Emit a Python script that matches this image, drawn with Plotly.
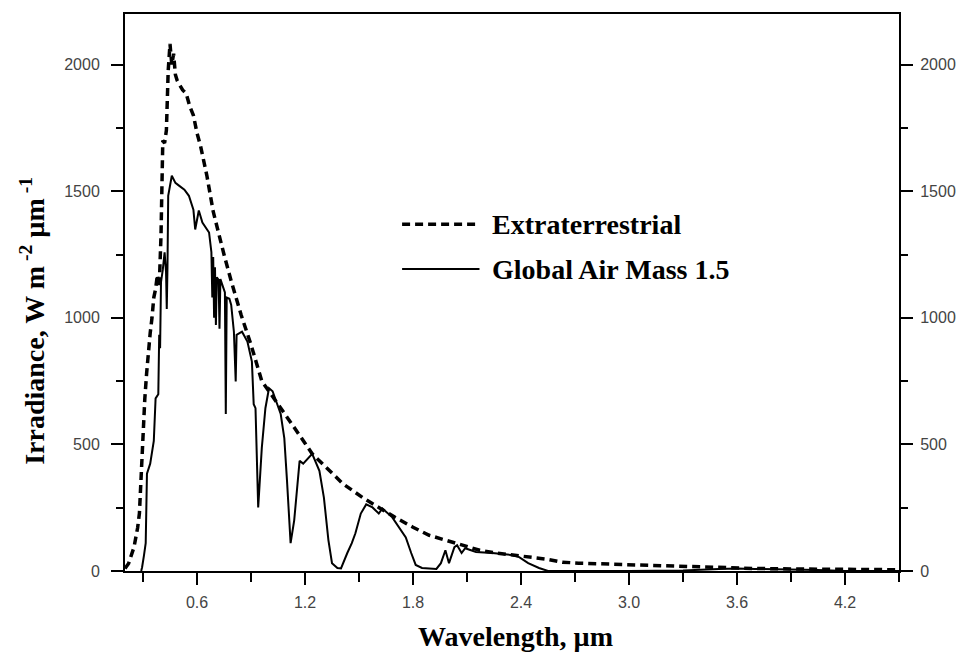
import plotly.graph_objects as go

# ---------------- data ----------------
ext_wavelength = [0.20, 0.22, 0.25, 0.27, 0.28, 0.29, 0.30, 0.31, 0.32, 0.33, 0.34, 0.35, 0.36, 0.37,
                  0.38, 0.39, 0.40, 0.41, 0.42, 0.43, 0.44, 0.45, 0.46, 0.47, 0.48, 0.49, 0.50, 0.52,
                  0.54, 0.56, 0.58, 0.60, 0.62, 0.655, 0.69, 0.72, 0.75, 0.79, 0.845, 0.90, 0.96,
                  1.05, 1.13, 1.20, 1.24, 1.30, 1.35, 1.41, 1.47, 1.52, 1.61, 1.70, 1.80, 1.89, 1.98,
                  2.07, 2.17, 2.26, 2.35, 2.44, 2.54, 2.63, 2.72, 2.90, 3.10, 3.30, 3.50, 3.70, 3.90,
                  4.10, 4.30, 4.50]
ext_irradiance = [10, 30, 94, 170, 227, 400, 560, 680, 780, 880, 940, 1000, 1080, 1114,
                  1170, 1120, 1325, 1700, 1690, 1741, 1976, 2082, 2000, 2043, 1960, 1937, 1925, 1900,
                  1886, 1835, 1800, 1730, 1678, 1561, 1420, 1330, 1250, 1145, 1012, 894, 750,
                  659, 580, 505, 463, 420, 384, 345, 315, 290, 251, 212, 173, 141, 122,
                  102, 82, 71, 63, 55, 47, 35, 31, 27, 22, 17, 13, 10, 8,
                  7, 6, 5]

am15_wavelength = [0.29, 0.295, 0.305, 0.315, 0.322, 0.34, 0.36, 0.37, 0.385, 0.39, 0.395, 0.40, 0.41,
                   0.42, 0.428, 0.432, 0.436, 0.44, 0.46, 0.48, 0.50, 0.53, 0.555, 0.58, 0.59, 0.61,
                   0.63, 0.667, 0.68, 0.685, 0.69, 0.695, 0.70, 0.705, 0.71, 0.72, 0.725, 0.73, 0.755,
                   0.76, 0.765, 0.78, 0.79, 0.805, 0.815, 0.82, 0.85, 0.88, 0.905, 0.915, 0.925, 0.935,
                   0.94, 0.96, 0.98, 1.00, 1.02, 1.065, 1.085, 1.10, 1.12, 1.14, 1.17, 1.19, 1.24, 1.28,
                   1.305, 1.33, 1.35, 1.38, 1.40, 1.435, 1.46, 1.48, 1.51, 1.54, 1.575, 1.61, 1.63,
                   1.685, 1.72, 1.76, 1.79, 1.815, 1.85, 1.93, 1.955, 1.98, 2.00, 2.03, 2.045, 2.07,
                   2.09, 2.15, 2.24, 2.35, 2.39, 2.44, 2.50, 2.55, 3.0, 3.3, 3.5, 3.6, 3.7, 3.9, 4.05,
                   4.2, 4.5]
am15_irradiance = [0, 15, 60, 110, 384, 424, 514, 682, 698, 933, 880, 1141, 1190,
                   1259, 1180, 1035, 1200, 1482, 1561, 1533, 1522, 1506, 1482, 1427, 1349, 1424,
                   1376, 1337, 1259, 1080, 1240, 1000, 1200, 972, 1160, 1150, 957, 1153, 1100,
                   620, 1080, 1075, 1051, 945, 749, 933, 945, 906, 827, 659, 643, 384,
                   251, 486, 643, 722, 710, 620, 525, 357, 110, 200, 435, 424, 463, 396,
                   290, 122, 31, 12, 10, 71, 110, 149, 227, 263, 251, 227, 247,
                   212, 173, 133, 71, 24, 12, 8, 31, 82, 31, 94, 102, 71,
                   90, 75, 71, 63, 55, 31, 12, 0, 0, 2, 8, 10, 8, 6, 4,
                   0, 0]

x_tick_values = [0.6, 1.2, 1.8, 2.4, 3.0, 3.6, 4.2]
x_tick_labels = ["0.6", "1.2", "1.8", "2.4", "3.0", "3.6", "4.2"]
y_tick_values = [0, 500, 1000, 1500, 2000]
y_tick_labels = ["0", "500", "1000", "1500", "2000"]

series_names = ["Extraterrestrial", "Global Air Mass 1.5"]
x_title = "Wavelength, µm"
y_title = "Irradiance, W m<sup> -2</sup> µm<sup> -1</sup>"

# ---------------- styles ----------------
DASH = "8px,5px"
tick_font = dict(family="Liberation Sans, Arial, sans-serif", size=16, color="#444")
title_font = dict(family="Liberation Serif, Times New Roman, serif", size=28, color="black")

fig = go.Figure()
fig.add_trace(go.Scatter(x=ext_wavelength, y=ext_irradiance, mode="lines",
                         name=series_names[0],
                         line=dict(color="black", width=3.5, dash=DASH)))
fig.add_trace(go.Scatter(x=am15_wavelength, y=am15_irradiance, mode="lines",
                         name=series_names[1],
                         line=dict(color="black", width=2)))
# invisible trace to activate the right-hand axis
fig.add_trace(go.Scatter(x=[None], y=[None], yaxis="y2", showlegend=False, hoverinfo="skip"))

common_y = dict(range=[0, 2200], tickmode="array", tickvals=y_tick_values, ticktext=y_tick_labels,
                ticks="outside", ticklen=12, tickwidth=2, tickcolor="black",
                showline=True, linecolor="black", linewidth=2, showgrid=False, zeroline=False,
                tickfont=tick_font,
                minor=dict(ticks="outside", ticklen=7, tickwidth=2, tickcolor="black",
                           tickmode="linear", tick0=0, dtick=250))

# page body adds an 8px offset, so the figure is 8px smaller and margins shifted accordingly
fig.update_layout(
    width=957, height=650,
    margin=dict(l=117, r=66, t=4, b=87),
    paper_bgcolor="white", plot_bgcolor="white",
    showlegend=False,
    xaxis=dict(range=[0.2, 4.5], tickmode="array", tickvals=x_tick_values, ticktext=x_tick_labels,
               ticks="outside", ticklen=12, tickwidth=2, tickcolor="black",
               showline=True, mirror=True, linecolor="black", linewidth=2,
               showgrid=False, zeroline=False, tickfont=tick_font, ticklabelstandoff=4,
               minor=dict(ticks="outside", ticklen=9, tickwidth=2, tickcolor="black",
                          tickmode="linear", tick0=0, dtick=0.3)),
    yaxis=dict(**common_y, side="left", ticklabelstandoff=8),
    yaxis2=dict(**common_y, side="right", overlaying="y", ticklabelstandoff=4),
)

# legend drawn as line samples + text
legend_y = [0.6225, 0.542]
fig.add_shape(type="line", xref="paper", yref="paper", x0=0.358, x1=0.456,
              y0=legend_y[0], y1=legend_y[0], line=dict(color="black", width=3.5, dash=DASH))
fig.add_shape(type="line", xref="paper", yref="paper", x0=0.358, x1=0.458,
              y0=legend_y[1], y1=legend_y[1], line=dict(color="black", width=2))
for name, yy in zip(series_names, legend_y):
    fig.add_annotation(xref="paper", yref="paper", x=0.4716, y=yy, xanchor="left", yanchor="middle",
                       text="<b>%s</b>" % name, showarrow=False, font=title_font)

fig.add_annotation(xref="paper", yref="paper", x=0.504, y=-0.118, xanchor="center", yanchor="middle",
                   text="<b>%s</b>" % x_title, showarrow=False, font=title_font)
fig.add_annotation(xref="paper", yref="paper", x=-0.119, y=0.449, xanchor="center", yanchor="middle",
                   text="<b>%s</b>" % y_title, textangle=-90, showarrow=False, font=title_font)

fig.write_html("out.html")
